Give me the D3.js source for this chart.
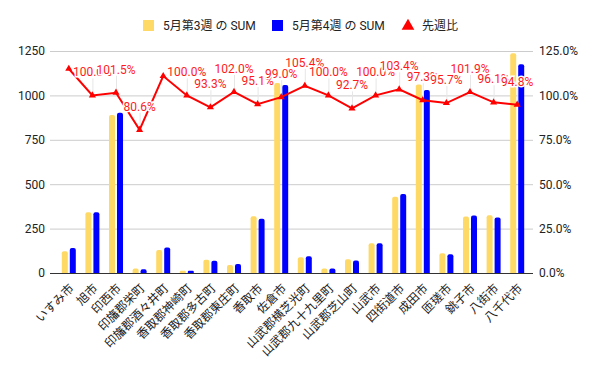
<!DOCTYPE html>
<html>
<head>
<meta charset="utf-8">
<script src="https://cdn.jsdelivr.net/npm/d3@7"></script>
<style>
  body { margin: 0; background: #fff; }
  text { font-family: Roboto, "Noto Sans CJK JP", sans-serif; }
</style>
</head>
<body>
<div id="chart"></div>
<script>
// data
var cities = ["いすみ市", "旭市", "印西市", "印旛郡栄町", "印旛郡酒々井町", "香取郡神崎町",
  "香取郡多古町", "香取郡東庄町", "香取市", "佐倉市", "山武郡横芝光町", "山武郡九十九里町",
  "山武郡芝山町", "山武市", "四街道市", "成田市", "匝瑳市", "銚子市", "八街市", "八千代市"];
var week3 = [122, 342, 890, 26, 129, 12, 74, 45, 320, 1070, 89, 26, 77, 167, 430, 1062, 111, 318, 325, 1237];
var week4 = [141, 342, 903, 21, 143, 12, 69, 50, 305, 1059, 94, 26, 71, 167, 445, 1030, 105, 324, 312, 1175];
var ratio = [115.0, 100.0, 101.5, 80.6, 110.9, 100.0, 93.3, 102.0, 95.1, 99.0, 105.4, 100.0,
  92.7, 100.0, 103.4, 97.3, 95.7, 101.9, 96.1, 94.8];
var leftTicks = [0, 250, 500, 750, 1000, 1250];
var rightTicks = [0, 25, 50, 75, 100, 125];
var seriesNames = ["5月第3週 の SUM", "5月第4週 の SUM", "先週比"];
var colors = ["#ffd966", "#0000ff", "#ff0000"];

var svgWidth = 600, svgHeight = 371;
var plot = {left: 50, right: 533, top: 51, bottom: 273};

var svg = d3.select("#chart")
  .append("svg")
    .attr("width", svgWidth)
    .attr("height", svgHeight);

// scales
var x = d3.scaleBand()
  .domain(cities)
  .range([57, 529]);
var x1 = d3.scaleBand()
  .domain([0, 1])
  .range([0, 14])
  .paddingInner(0.25);
var y = d3.scaleLinear()
  .domain([0, 1250])
  .range([plot.bottom, plot.top]);
var yr = d3.scaleLinear()
  .domain([0, 125])
  .range([plot.bottom, plot.top]);

// gridlines
svg.append("g")
  .selectAll("line")
  .data(leftTicks.slice(1))
  .join("line")
    .attr("x1", plot.left)
    .attr("x2", plot.right)
    .attr("y1", d => y(d) + 0.5)
    .attr("y2", d => y(d) + 0.5)
    .attr("stroke", "#cccccc");

// left axis
var leftAxis = svg.append("g")
  .attr("transform", "translate(" + plot.left + ",0)")
  .call(d3.axisLeft(y).tickValues(leftTicks).tickSize(0).tickPadding(5)
    .tickFormat(d3.format("d")));
leftAxis.select(".domain").remove();
leftAxis.selectAll("text")
  .attr("font-size", 12)
  .attr("fill", "#222");

// right axis
var rightAxis = svg.append("g")
  .attr("transform", "translate(" + plot.right + ",0)")
  .call(d3.axisRight(yr).tickValues(rightTicks).tickSize(0).tickPadding(6)
    .tickFormat(d => d.toFixed(1) + "%"));
rightAxis.select(".domain").remove();
rightAxis.selectAll("text")
  .attr("font-size", 12)
  .attr("fill", "#222");

// bars with rounded tops
function barPath(x0, w, yTop, yBase) {
  var r = Math.min(2, (yBase - yTop) / 2, w / 2);
  return "M" + x0 + "," + yBase +
    "V" + (yTop + r) +
    "Q" + x0 + "," + yTop + " " + (x0 + r) + "," + yTop +
    "H" + (x0 + w - r) +
    "Q" + (x0 + w) + "," + yTop + " " + (x0 + w) + "," + (yTop + r) +
    "V" + yBase + "Z";
}

var groupOffset = (x.bandwidth() - 14) / 2;
[week3, week4].forEach(function(values, s) {
  svg.append("g")
    .selectAll("path")
    .data(values)
    .join("path")
      .attr("d", (d, i) => barPath(x(cities[i]) + groupOffset + x1(s), x1.bandwidth(), y(d), y(0)))
      .attr("fill", colors[s]);
});

// baseline
svg.append("line")
  .attr("x1", plot.left)
  .attr("x2", plot.right)
  .attr("y1", y(0) + 0.5)
  .attr("y2", y(0) + 0.5)
  .attr("stroke", "#333")
  .attr("stroke-width", 1);

// x labels
svg.append("g")
  .selectAll("text")
  .data(cities)
  .join("text")
    .attr("transform", d => "translate(" + (x(d) + x.bandwidth() / 2 + 3) + ",286) rotate(-45)")
    .attr("text-anchor", "end")
    .attr("dy", "0.35em")
    .attr("font-size", 12)
    .attr("fill", "#222")
    .text(d => d);

// ratio line
var cx = (d, i) => x(cities[i]) + x.bandwidth() / 2;
var pts = ratio.map((d, i) => [cx(d, i), yr(d)]);

// annotation stems + labels (hidden if above the plot top)
var labelGap = 19;
var shown = ratio.map((d, i) => i).filter(i => yr(ratio[i]) - labelGap - 10 >= plot.top);

svg.append("g")
  .selectAll("line")
  .data(shown)
  .join("line")
    .attr("x1", i => pts[i][0] + 0.5)
    .attr("x2", i => pts[i][0] + 0.5)
    .attr("y1", i => pts[i][1] - labelGap + 2)
    .attr("y2", i => pts[i][1])
    .attr("stroke", "#e6e6e6");

svg.append("path")
  .datum(pts)
  .attr("d", d3.line())
  .attr("fill", "none")
  .attr("stroke", colors[2])
  .attr("stroke-width", 2);

svg.append("g")
  .selectAll("path")
  .data(pts)
  .join("path")
    .attr("transform", d => "translate(" + d[0] + "," + d[1] + ")")
    .attr("d", d3.symbol().type(d3.symbolTriangle).size(22))
    .attr("fill", colors[2]);

svg.append("g")
  .selectAll("text")
  .data(shown)
  .join("text")
    .attr("x", i => pts[i][0])
    .attr("y", i => pts[i][1] - labelGap)
    .attr("text-anchor", "middle")
    .attr("font-size", 12)
    .attr("fill", "#ff1a1a")
    .attr("stroke", "#fff")
    .attr("stroke-width", 3)
    .attr("paint-order", "stroke")
    .text(i => ratio[i].toFixed(1) + "%");

// legend
var legend = svg.append("g");
var legendX = [143, 272, 408];
seriesNames.forEach(function(name, s) {
  if (s < 2) {
    legend.append("rect")
      .attr("x", legendX[s])
      .attr("y", 20)
      .attr("width", 11)
      .attr("height", 11)
      .attr("fill", colors[s]);
  } else {
    legend.append("path")
      .attr("transform", "translate(" + legendX[s] + ",26)")
      .attr("d", d3.symbol().type(d3.symbolTriangle).size(70))
      .attr("fill", colors[s]);
  }
  legend.append("text")
    .attr("x", s < 2 ? legendX[s] + 20 : legendX[s] + 14)
    .attr("y", 26)
    .attr("dy", "0.35em")
    .attr("font-size", 12)
    .attr("fill", "#222")
    .text(name);
});
</script>
</body>
</html>
